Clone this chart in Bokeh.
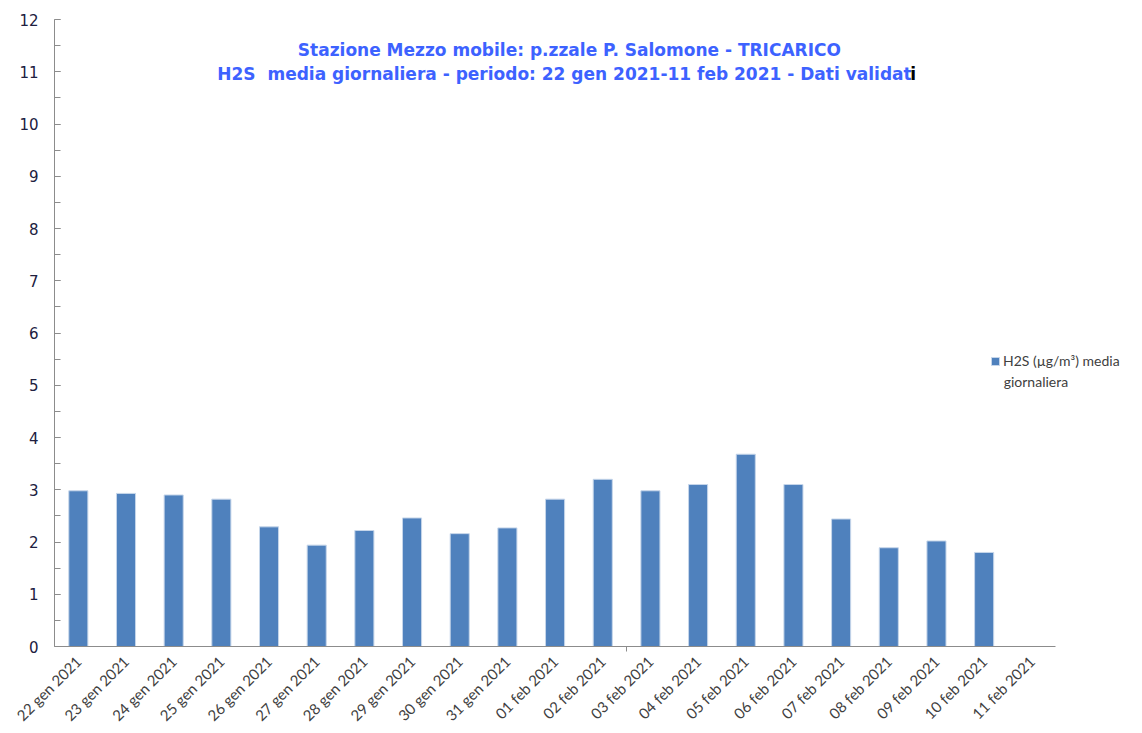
import math
from bokeh.plotting import figure
from bokeh.models import Range1d, Label, Legend, LegendItem, SingleIntervalTicker, FixedTicker
from bokeh.embed import file_html
from bokeh.resources import INLINE

dates = ["22 gen 2021", "23 gen 2021", "24 gen 2021", "25 gen 2021", "26 gen 2021",
         "27 gen 2021", "28 gen 2021", "29 gen 2021", "30 gen 2021", "31 gen 2021",
         "01 feb 2021", "02 feb 2021", "03 feb 2021", "04 feb 2021", "05 feb 2021",
         "06 feb 2021", "07 feb 2021", "08 feb 2021", "09 feb 2021", "10 feb 2021",
         "11 feb 2021"]
h2s = [2.98, 2.93, 2.90, 2.82, 2.29, 1.94, 2.22, 2.46, 2.16, 2.27,
       2.82, 3.20, 2.98, 3.10, 3.68, 3.10, 2.44, 1.89, 2.02, 1.80, float("nan")]

title1 = "Stazione Mezzo mobile: p.zzale P. Salomone - TRICARICO"
title2 = "H2S\u00a0 media giornaliera - periodo: 22 gen 2021-11 feb 2021 - Dati validat"
title2_end = "i"
series_name = "H2S (µg/m³) media"
series_name2 = "giornaliera"

xs = list(range(len(dates)))
n = len(dates)

p = figure(width=1140, height=733, x_range=Range1d(-0.5, 22.07),
           y_range=Range1d(0, 12), output_backend="svg", toolbar_location=None,
           min_border_left=54, min_border_top=19, min_border_bottom=86, min_border_right=10)
p.outline_line_color = None
p.xgrid.grid_line_color = None
p.ygrid.grid_line_color = None

r = p.vbar(x=xs, top=h2s, width=0.4, fill_color="#4f81bd", line_color="#c6d6ea", line_width=1)

# y axis
p.yaxis.ticker = SingleIntervalTicker(interval=1, num_minor_ticks=2)
p.yaxis.axis_line_color = "#8c8c8c"
p.yaxis.major_tick_line_color = "#8c8c8c"
p.yaxis.minor_tick_line_color = "#8c8c8c"
p.yaxis.major_tick_in = 6
p.yaxis.major_tick_out = 0
p.yaxis.minor_tick_in = 6
p.yaxis.minor_tick_out = 0
p.yaxis.major_label_text_font = "DejaVu Sans"
p.yaxis.major_label_text_font_size = "15px"
p.yaxis.major_label_text_color = "#202040"
p.yaxis.major_label_standoff = 16

# x axis
p.xaxis.ticker = FixedTicker(ticks=xs, minor_ticks=[11.5])
p.xaxis.major_label_overrides = {i: d for i, d in zip(xs, dates)}
p.xaxis.bounds = (-0.5, n - 0.5)
p.xaxis.axis_line_color = "#8c8c8c"
p.xaxis.major_tick_line_color = None
p.xaxis.minor_tick_line_color = "#8c8c8c"
p.xaxis.minor_tick_in = 0
p.xaxis.minor_tick_out = 5
p.xaxis.major_label_orientation = math.pi / 4
p.xaxis.major_label_text_font = "Lato"
p.xaxis.major_label_text_font_size = "15px"
p.xaxis.major_label_text_color = "#404040"
p.xaxis.major_label_standoff = 6

# title lines
tfont = dict(text_font="DejaVu Sans", text_font_style="bold", text_font_size="17px",
             text_baseline="middle")
p.add_layout(Label(x=10.30, y=11.41, text=title1, text_align="center", text_color="#3d62ff", **tfont))
p.add_layout(Label(x=17.48, y=10.95, text=title2, text_align="right", text_color="#3d62ff", **tfont))
p.add_layout(Label(x=17.45, y=10.95, text=title2_end, text_align="left", text_color="#000000", **tfont))

# legend
legend = Legend(items=[LegendItem(label=series_name, renderers=[r])], location=(936, 277),
                border_line_color=None, background_fill_alpha=0, glyph_width=10, glyph_height=10,
                label_text_font="Lato", label_text_font_size="14px", label_text_color="#404040",
                padding=0, margin=0, label_standoff=3, label_height=14)
p.add_layout(legend)
p.add_layout(Label(x=19.41, y=5.08, text=series_name2, text_align="left", text_baseline="middle",
                   text_font="Lato", text_font_size="14px", text_color="#404040"))

open("out.html", "w").write(file_html(p, INLINE))
